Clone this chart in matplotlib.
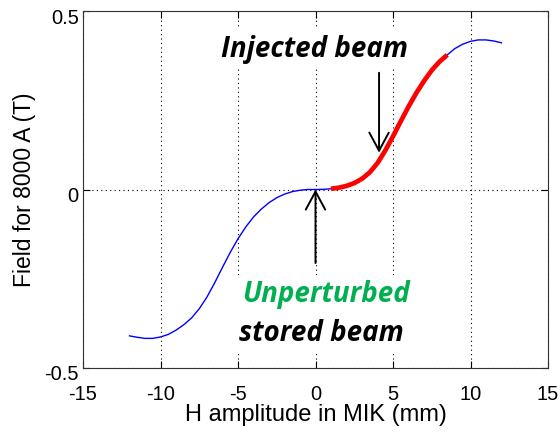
import matplotlib
matplotlib.use("Agg")
import matplotlib.pyplot as plt
import matplotlib.transforms as mtransforms
import numpy as np

# Champ (x en mm, champ en T)
amplitude_mm = [-12, -11.5, -11, -10.5, -10, -9.5, -9, -8.5, -8, -7.5, -7, -6.5,
                -6, -5.5, -5, -4.5, -4, -3.5, -3, -2.5, -2, -1.5, -1, -0.5,
                0, 0.5, 1, 1.5, 2, 2.5, 3, 3.5, 4, 4.5, 5, 5.5, 6, 6.5,
                7, 7.5, 8, 8.5, 9, 9.5, 10, 10.5, 11, 11.5, 12]
champ_T = [-0.410, -0.414, -0.417, -0.417, -0.413, -0.406, -0.394, -0.379, -0.360, -0.334, -0.301, -0.261,
           -0.218, -0.176, -0.138, -0.105, -0.077, -0.055, -0.037, -0.023, -0.013, -0.006, -0.002, 0.0,
           0.0, 0.0005, 0.002, 0.005, 0.010, 0.018, 0.030, 0.048, 0.074, 0.109, 0.149, 0.191, 0.232, 0.270,
           0.304, 0.334, 0.358, 0.377, 0.395, 0.407, 0.415, 0.419, 0.419, 0.416, 0.411]

# Zone du faisceau injecté (en rouge)
injecte_min = 1.0
injecte_max = 8.5

ticks_x = [-15, -10, -5, 0, 5, 10, 15]
ticks_y = [-0.5, 0, 0.5]

POLICE_AXES = "Liberation Sans"
POLICE_TEXTE = "Open Sans"
VERT = "#00B050"

plt.rcParams["axes.unicode_minus"] = False

fig = plt.figure(figsize=(5.6, 4.33), dpi=100)
ax = fig.add_axes([83 / 560, 65 / 433, 465 / 560, 357 / 433])

x = np.array(amplitude_mm)
y = np.array(champ_T)
ax.plot(x, y, color="#0000FF", lw=1.0, zorder=3)
zone = (x >= injecte_min) & (x <= injecte_max)
ax.plot(x[zone], y[zone], color="#FF0000", lw=3.4, solid_capstyle="butt", zorder=4)

ax.set_xlim(-15, 15)
ax.set_ylim(-0.5, 0.5)
ax.set_xticks(ticks_x)
ax.set_yticks(ticks_y)
ax.set_yticklabels(["-0.5", "0", "0.5"])
ax.grid(True, color="black", linestyle=(0, (1, 3)), linewidth=0.8)
ax.tick_params(direction="in", length=5, width=0.8, top=True, right=True,
               labelsize=14.5, color="black")
ax.tick_params(axis="x", pad=12)
ax.tick_params(axis="y", pad=3)
for lab in ax.get_xticklabels() + ax.get_yticklabels():
    lab.set_fontfamily(POLICE_AXES)
decalage = mtransforms.ScaledTranslation(0, -5 / 100, fig.dpi_scale_trans)
for lab in ax.get_yticklabels():
    lab.set_transform(lab.get_transform() + decalage)
for s in ax.spines.values():
    s.set_linewidth(0.8)
    s.set_color("#333333")

ax.set_xlabel("H amplitude in MIK (mm)", fontsize=17, family=POLICE_AXES, labelpad=0)
ax.set_ylabel("Field for 8000 A (T)", fontsize=16.5, family=POLICE_AXES, labelpad=6)

# Annotations
boite = dict(boxstyle="square,pad=0.2", facecolor="white", edgecolor="none")
style = dict(va="baseline", ha="center", fontsize=20, family=POLICE_TEXTE,
             fontweight="bold", fontstyle="italic", bbox=boite, zorder=5)
ax.text(-0.06, 0.372, "Injected beam", **style)
ax.text(0.68, -0.316, "Unperturbed", color=VERT, **style)
ax.text(0.39, -0.4235, "stored beam", **style)

fleche = dict(arrowstyle="->,head_length=1.3,head_width=0.7", mutation_scale=10,
              lw=1.4, color="black", shrinkA=0, shrinkB=0)
ax.annotate("", xy=(4.1, 0.103), xytext=(4.1, 0.327), arrowprops=fleche, zorder=6)
ax.annotate("", xy=(0.0, 0.0), xytext=(0.0, -0.206), arrowprops=fleche, zorder=6)

fig.savefig("out.png", dpi=100)
